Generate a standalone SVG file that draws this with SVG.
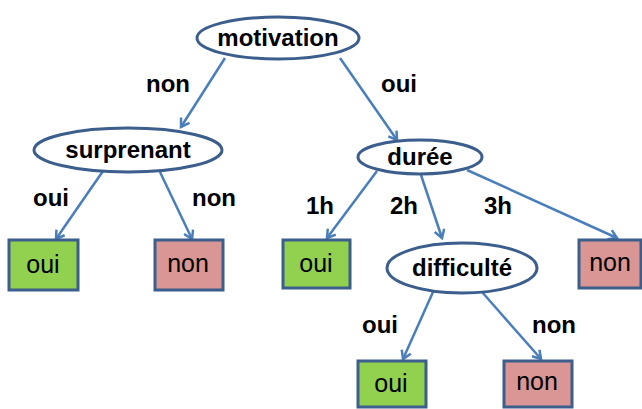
<svg xmlns="http://www.w3.org/2000/svg" width="642" height="409" viewBox="0 0 642 409">
<defs>
<marker id="ah" markerWidth="12" markerHeight="12" refX="9" refY="6" orient="auto" markerUnits="userSpaceOnUse">
<path d="M1,1 L9,6 L1,11" fill="none" stroke="#4A7EBB" stroke-width="2.5"/>
</marker>
</defs>
<style>
.ell{fill:#fff;stroke:#3B5E8C;stroke-width:3}
.box{stroke:#3B5E8C;stroke-width:3}
.g{fill:#92D050}
.r{fill:#D99694}
.t{font-family:"Liberation Sans",Arial,sans-serif;font-size:24px;font-weight:bold;text-anchor:middle;fill:#000}
.bt{font-family:"Liberation Sans",Arial,sans-serif;font-size:25px;text-anchor:middle;fill:#000}
.c line{stroke:#4A7EBB;stroke-width:2.5;marker-end:url(#ah)}
</style>
<rect width="642" height="409" fill="#fff"/>
<g class="c" id="connectors">
<line x1="225" y1="58" x2="181" y2="127"/>
<line x1="340" y1="58" x2="397" y2="140"/>
<line x1="103" y1="171" x2="56" y2="239"/>
<line x1="160" y1="172" x2="192" y2="239"/>
<line x1="377" y1="171" x2="327" y2="238"/>
<line x1="421" y1="175" x2="442" y2="238"/>
<line x1="467" y1="170" x2="617" y2="238"/>
<line x1="433" y1="292" x2="403" y2="359"/>
<line x1="482" y1="292" x2="541" y2="359"/>
</g>
<g id="labels">
<text class="t" x="168" y="92">non</text>
<text class="t" x="399" y="92">oui</text>
<text class="t" x="51" y="206">oui</text>
<text class="t" x="214" y="206">non</text>
<text class="t" x="320" y="214">1h</text>
<text class="t" x="404" y="214">2h</text>
<text class="t" x="498" y="214">3h</text>
<text class="t" x="380" y="333">oui</text>
<text class="t" x="554" y="333">non</text>
</g>
<g id="motivation"><ellipse class="ell" cx="278" cy="38" rx="81" ry="21"/><text class="t" x="278" y="46">motivation</text></g>
<g id="surprenant"><ellipse class="ell" cx="128" cy="150" rx="94" ry="22"/><text class="t" x="128" y="158">surprenant</text></g>
<g id="duree"><ellipse class="ell" cx="420" cy="157" rx="62" ry="17"/><text class="t" x="420" y="165">durée</text></g>
<g id="difficulte"><ellipse class="ell" cx="462" cy="268" rx="75" ry="25"/><text class="t" x="462" y="276">difficulté</text></g>
<g id="oui1"><rect class="box g" x="9" y="240" width="69" height="50"/><text class="bt" x="43" y="273">oui</text></g>
<g id="non1"><rect class="box r" x="155" y="240" width="68" height="50"/><text class="bt" x="188" y="272">non</text></g>
<g id="oui2"><rect class="box g" x="283" y="240" width="67" height="48"/><text class="bt" x="316" y="272">oui</text></g>
<g id="non2"><rect class="box r" x="579" y="240" width="62" height="48"/><text class="bt" x="610" y="271">non</text></g>
<g id="oui3"><rect class="box g" x="358" y="361" width="68" height="46"/><text class="bt" x="391" y="392">oui</text></g>
<g id="non3"><rect class="box r" x="504" y="361" width="68" height="46"/><text class="bt" x="537" y="390">non</text></g>
</svg>
